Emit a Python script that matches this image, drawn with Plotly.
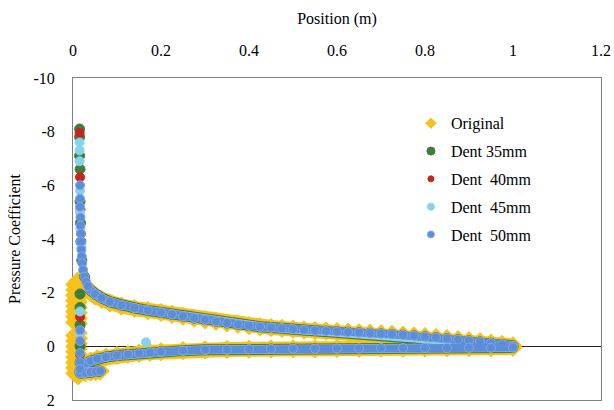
import plotly.graph_objects as go

# ---------------- data ----------------
series_names = ["Original", "Dent 35mm", "Dent  40mm", "Dent  45mm", "Dent  50mm"]

x_tick_vals = [0, 0.2, 0.4, 0.6, 0.8, 1.0, 1.2]
y_tick_vals = [-10, -8, -6, -4, -2, 0, 2]
y_tick_text = ["-10", "-8", "-6", "-4", "-2", "0", "2"]

# common upper-surface curve (dented cases)
upper_x = [0.039, 0.05, 0.065, 0.084, 0.11, 0.14, 0.17, 0.2, 0.225, 0.25, 0.275, 0.3,
           0.325, 0.35, 0.375, 0.4, 0.425, 0.45, 0.475, 0.5, 0.525, 0.55, 0.575, 0.6,
           0.625, 0.65, 0.675, 0.7, 0.725, 0.75, 0.775, 0.8, 0.825, 0.85, 0.875, 0.9,
           0.925, 0.95, 0.975, 1.0]
upper_cp = [-2.1, -1.95, -1.8, -1.66, -1.53, -1.43, -1.34, -1.26, -1.19, -1.12, -1.05, -0.99,
            -0.93, -0.87, -0.82, -0.77, -0.73, -0.70, -0.67, -0.64, -0.61, -0.59, -0.57, -0.55,
            -0.53, -0.51, -0.49, -0.47, -0.45, -0.42, -0.39, -0.36, -0.33, -0.29, -0.25, -0.21,
            -0.17, -0.12, -0.07, -0.02]

# common lower-surface curve
lower_x = [0.016, 0.022, 0.03, 0.04, 0.055, 0.075, 0.1, 0.125, 0.15, 0.175, 0.2, 0.25, 0.3,
           0.35, 0.4, 0.45, 0.5, 0.55, 0.6, 0.65, 0.7, 0.75, 0.8, 0.85, 0.9, 0.95, 1.0]
lower_cp = [0.9, 0.75, 0.63, 0.55, 0.47, 0.4, 0.34, 0.3, 0.26, 0.23, 0.2, 0.16, 0.13,
            0.12, 0.11, 0.1, 0.09, 0.09, 0.08, 0.08, 0.07, 0.07, 0.06, 0.06, 0.05, 0.05, 0.04]
tail_x = [0.016, 0.028, 0.04, 0.052, 0.062]
tail_cp = [1.0, 0.98, 0.96, 0.94, 0.92]

# Original: leading-edge cluster and upper curve near the nose
orig_le_x = [0.004] * 16 + [0.012] * 18
orig_le_cp = [-2.3, -2.1, -1.9, -1.7, -1.5, -1.3, -1.1, -0.9, -0.4, -0.2, 0.0, 0.2, 0.4, 0.6, 0.8, 1.0,
              -2.45, -2.25, -2.05, -1.85, -1.65, -1.45, -1.25, -1.05, -0.85, -0.5, -0.3, -0.1, 0.1,
              0.3, 0.5, 0.7, 0.9, 1.1]
orig_nose_x = [0.02, 0.03, 0.04, 0.05, 0.065, 0.084, 0.11, 0.14, 0.17]
orig_nose_cp = [-2.35, -2.15, -2.0, -1.88, -1.75, -1.62, -1.5, -1.41, -1.33]

# leading-edge suction spike of each dented case
spike35_x = [0.015, 0.015, 0.015, 0.016, 0.016, 0.017, 0.018, 0.02, 0.026, 0.016, 0.016, 0.016, 0.016, 0.016]
spike35_cp = [-8.1, -7.8, -7.1, -6.6, -5.4, -4.6, -3.9, -3.2, -2.6, -1.95, -1.45, -0.8, 0.0, 0.6]
spike40_x = [0.015, 0.016, 0.017, 0.018, 0.027, 0.016, 0.016]
spike40_cp = [-7.95, -6.3, -5.1, -4.2, -2.55, -1.1, 0.3]
spike45_x = [0.015, 0.015, 0.015, 0.016, 0.016, 0.017, 0.019, 0.016, 0.016, 0.166]
spike45_cp = [-7.6, -7.3, -6.9, -5.8, -5.0, -4.4, -3.7, -1.3, -0.5, -0.15]
spike50_x = [0.016, 0.016, 0.016, 0.017, 0.017, 0.018, 0.018, 0.019, 0.02, 0.021, 0.023, 0.026,
             0.03, 0.034, 0.016, 0.016, 0.016, 0.016, 0.016]
spike50_cp = [-6.0, -5.5, -5.2, -4.8, -4.5, -4.2, -3.9, -3.6, -3.35, -3.1, -2.85, -2.6,
              -2.4, -2.25, -0.6, -0.2, 0.25, 0.6, 0.85]

# ---------------- styles ----------------
colors = ["#F4C21B", "#3E7D3A", "#C8231C", "#86D3E9", "#5B8DD9"]
edge_colors = ["#F4C21B", "#3E7D3A", "#C8231C", "#86D3E9", "#84A8E4"]
symbols = ["diamond", "circle", "circle", "circle", "circle"]
sizes = [14, 10, 9, 9, 9]
band_widths = [15, 11, 9, 9, 8]
legend_sizes = [8, 8, 6, 7, 7]

FONT = "Liberation Serif, Times New Roman, serif"

fig = go.Figure()


def band(xs, ys, i):
    fig.add_trace(go.Scatter(
        x=xs, y=ys, mode="lines+markers", showlegend=False, cliponaxis=False,
        line=dict(color=colors[i], width=band_widths[i]),
        marker=dict(symbol=symbols[i], size=sizes[i], color=colors[i],
                    line=dict(color=edge_colors[i], width=1)),
        hoverinfo="skip"))


def dots(xs, ys, i):
    fig.add_trace(go.Scatter(
        x=xs, y=ys, mode="markers", showlegend=False, cliponaxis=False,
        marker=dict(symbol=symbols[i], size=sizes[i], color=colors[i],
                    line=dict(color=edge_colors[i], width=1)),
        hoverinfo="skip"))


# Original
dots(orig_le_x, orig_le_cp, 0)
band(orig_nose_x + upper_x[7:], orig_nose_cp + upper_cp[7:], 0)
band(lower_x, lower_cp, 0)
band(tail_x, tail_cp, 0)

# dented cases
spikes = [(spike35_x, spike35_cp), (spike40_x, spike40_cp), (spike45_x, spike45_cp), (spike50_x, spike50_cp)]
for k, (sx, sy) in enumerate(spikes, start=1):
    band(upper_x, upper_cp, k)
    band(lower_x, lower_cp, k)
    band(tail_x, tail_cp, k)
    dots(sx, sy, k)

# legend entries
for i, name in enumerate(series_names):
    fig.add_trace(go.Scatter(
        x=[None], y=[None], mode="markers", name=name, legendgroup=name,
        marker=dict(symbol=symbols[i], size=legend_sizes[i], color=colors[i],
                    line=dict(color=edge_colors[i], width=1))))

fig.update_layout(
    width=614, height=410,
    margin=dict(l=73, r=13, t=78, b=10, autoexpand=False),
    paper_bgcolor="white", plot_bgcolor="white",
    font=dict(family=FONT, size=16, color="black"),
    showlegend=True,
    legend=dict(x=0.64, y=0.912, xanchor="left", yanchor="top",
                bgcolor="rgba(0,0,0,0)", font=dict(family=FONT, size=16),
                tracegroupgap=4, itemwidth=30),
    xaxis=dict(
        side="top", range=[0, 1.2], tickvals=x_tick_vals,
        showgrid=False, zeroline=False, ticks="", automargin=False,
        showline=True, mirror=True, linecolor="#808080", linewidth=1,
        ticklabelstandoff=15, ticklabeloverflow="allow", layer="below traces",
        title=dict(text="Position (m)", standoff=12, font=dict(family=FONT, size=16)),
        tickfont=dict(family=FONT, size=16),
    ),
    yaxis=dict(
        range=[2, -10], tickvals=y_tick_vals, ticktext=y_tick_text,
        showgrid=False, zeroline=True, zerolinecolor="#222222", zerolinewidth=1,
        ticks="", showline=True, mirror=True, linecolor="#808080", linewidth=1,
        automargin=False, ticklabelstandoff=14, ticklabeloverflow="allow", layer="below traces",
        title=dict(text="Pressure Coefficient", standoff=8, font=dict(family=FONT, size=16)),
        tickfont=dict(family=FONT, size=16),
    ),
)

# remove the browser's default page margin so the 614x410 figure fills the window
fig.write_html("out.html", config={"displayModeBar": False},
               post_script="document.body.style.margin='0';document.body.style.overflow='hidden';")
